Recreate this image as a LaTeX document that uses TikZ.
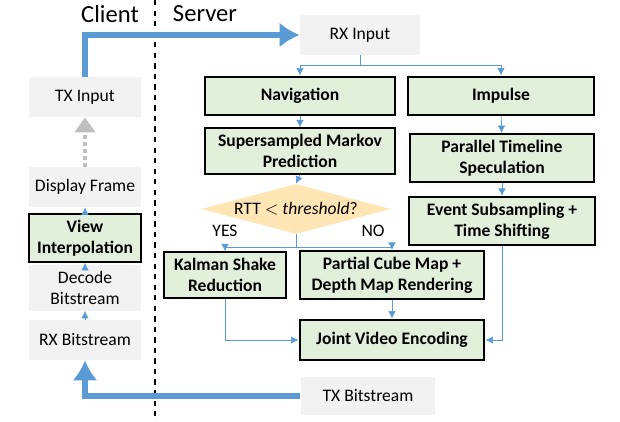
\documentclass[tikz,border=0pt]{standalone}
\usepackage{fontspec}
\setmainfont{Carlito}
\usetikzlibrary{shapes.geometric,arrows.meta}
\definecolor{boxgray}{RGB}{242,242,242}
\definecolor{boxgreen}{RGB}{226,239,218}
\definecolor{linkblue}{RGB}{91,155,213}
\definecolor{diafill}{RGB}{255,230,180}
\tikzset{
  plain/.style={fill=boxgray,minimum height=1.2cm,align=center,font=\fontsize{10}{12}\selectfont},
  stage/.style={draw,line width=.4mm,fill=boxgreen,minimum height=1.2cm,align=center,font=\fontsize{10}{12}\selectfont\bfseries},
  link/.style={linkblue,-{Latex[length=1.5mm,width=1.5mm]}},
  pipe/.style={linkblue,line width=1.2mm,-{Latex[length=4mm,width=5mm]}}
}
\begin{document}
\begin{tikzpicture}[x=0.02cm,y=-0.02cm]
\useasboundingbox(0,0)rectangle(620,422);
\draw[dashed,thick](155,0)--(155,422);
\node[font=\fontsize{14}{16}\selectfont] (client) at (110,14) {Client};
\node[font=\fontsize{14}{16}\selectfont] (server) at (205,14) {Server};
% server side
\node[plain,minimum width=2.4cm,minimum height=.8cm] (rxin) at (360,35) {RX Input};
\node[stage,minimum width=3.8cm,minimum height=.78cm] (nav) at (300,96) {Navigation};
\node[stage,minimum width=3.74cm,minimum height=.78cm] (imp) at (501,96) {Impulse};
\node[stage,minimum width=3.8cm,minimum height=.84cm] (ssm) at (300,151) {Supersampled Markov\\Prediction};
\node[stage,minimum width=3.7cm,minimum height=.86cm] (ptl) at (502,158) {Parallel Timeline\\Speculation};
\node[stage,minimum width=3.72cm,minimum height=.78cm] (evt) at (502,221) {Event Subsampling +\\Time Shifting};
\node[diamond,fill=diafill,aspect=3.8,inner sep=1pt,minimum width=3.26cm,minimum height=.86cm,font=\fontsize{10}{12}\selectfont] (rtt) at (296,209) {RTT $<$ \textit{threshold}?};
\node[stage,minimum width=2.46cm,minimum height=.8cm] (kal) at (225,275) {Kalman Shake\\Reduction};
\node[stage,minimum width=3.7cm,minimum height=.8cm] (cube) at (392,275) {Partial Cube Map +\\Depth Map Rendering};
\node[stage,minimum width=3.7cm,minimum height=.82cm] (enc) at (392,340) {Joint Video Encoding};
\node[plain,minimum width=2.7cm,minimum height=.76cm] (txbs) at (368,396) {TX Bitstream};
% client side
\node[plain,minimum width=2.24cm,minimum height=.8cm] (txin) at (85,97) {TX Input};
\node[plain,minimum width=2.24cm,minimum height=.8cm] (disp) at (85,187) {Display Frame};
\node[stage,minimum width=2.24cm,minimum height=.8cm] (view) at (85,238) {View\\Interpolation};
\node[plain,minimum width=2.24cm,minimum height=.8cm] (dec) at (85,288) {Decode\\Bitstream};
\node[plain,minimum width=2.24cm,minimum height=.8cm] (rxbs) at (85,340) {RX Bitstream};
% connectors
\draw[pipe](txin.north)|-(rxin.west);
\draw[pipe](txbs.west)-|(rxbs.south);
\draw[gray!50,line width=1mm,dash pattern=on 2pt off 2pt,-{Triangle[length=3mm,width=4mm]}](disp.north)--(txin.south);
\draw[link](view)--(disp);
\draw[link](dec)--(view);
\draw[link](rxbs)--(dec);
\draw[link](rxin.south)--++(0,10)-|(nav.north);
\draw[link](rxin.south)--++(0,10)-|(imp.north);
\draw[link](nav)--(ssm);
\draw[link](ssm.south)--(rtt.north);
\draw[link](rtt.south)--++(0,13)-|(kal.north);
\draw[link](rtt.south)--++(0,13)-|(cube.north);
\node[font=\fontsize{10}{12}\selectfont] (yes) at (225,231) {YES};
\node[font=\fontsize{10}{12}\selectfont] (no) at (373,231) {NO};
\draw[link](imp)--(ptl);
\draw[link](ptl)--(evt);
\draw[link](kal.south)|-(enc.west);
\draw[link](cube)--(enc);
\draw[link](evt.south)|-(enc.east);
\end{tikzpicture}
\end{document}
